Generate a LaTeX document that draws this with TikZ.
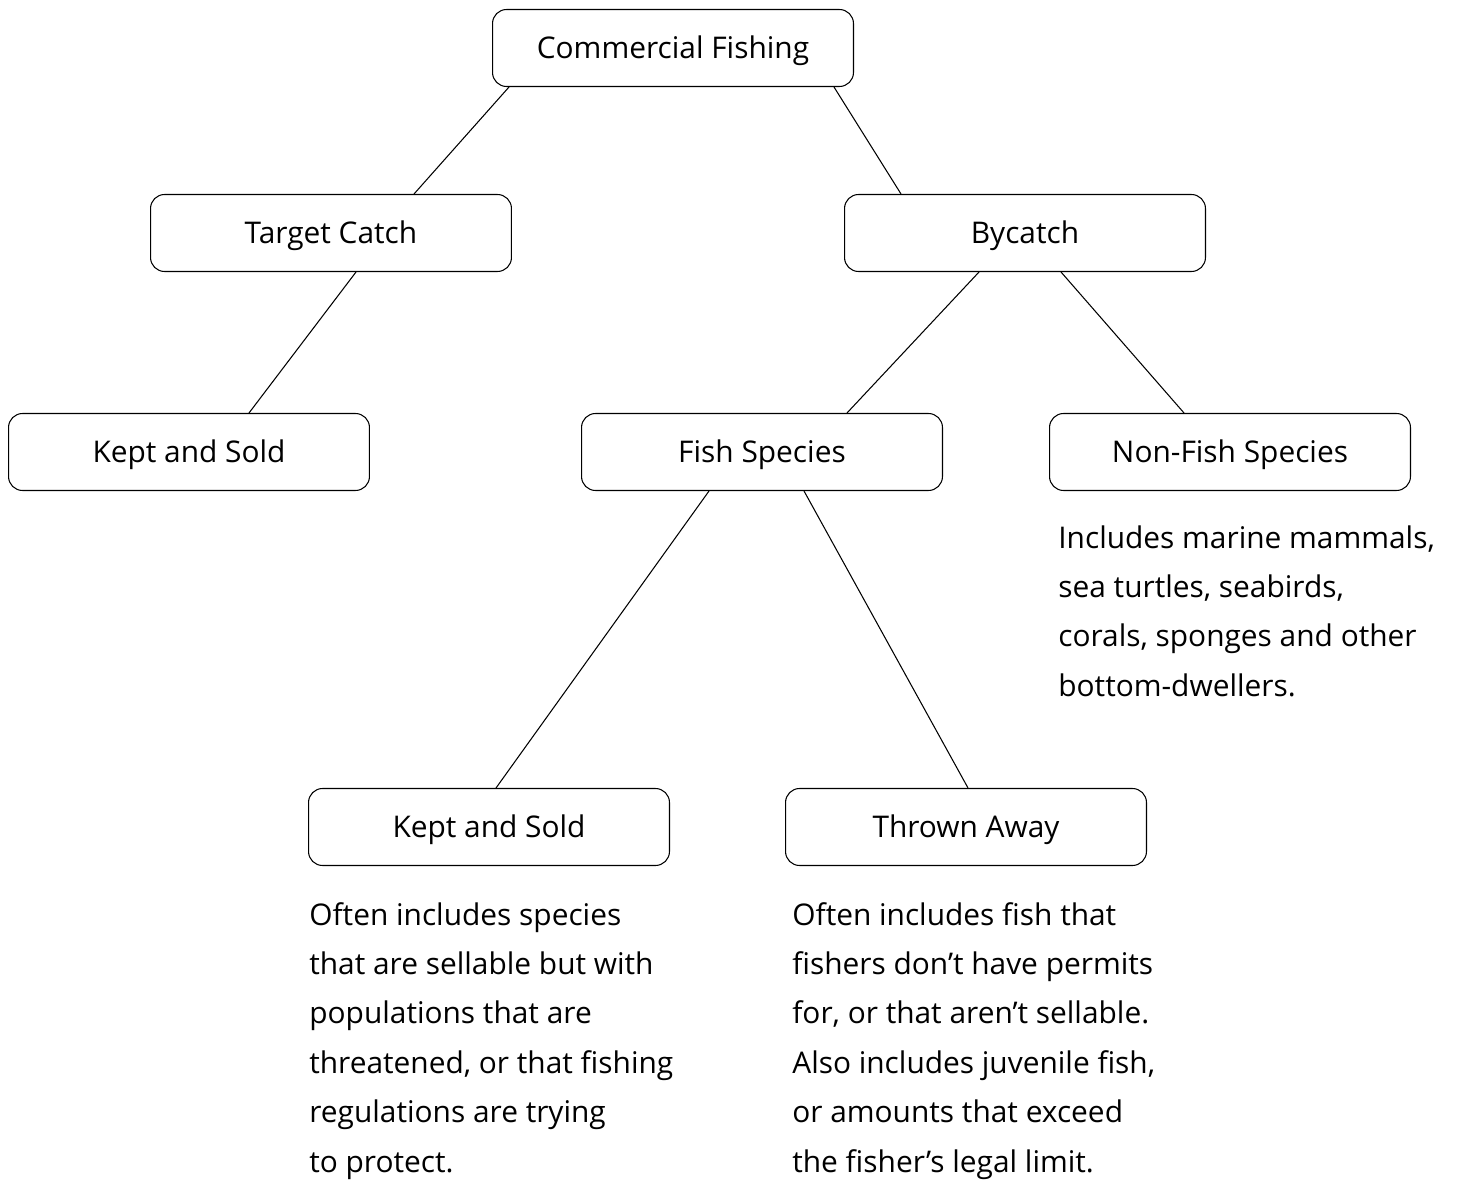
\documentclass[tikz,border=0pt]{standalone}
\usepackage{fontspec}
\setmainfont{Open Sans}
\usetikzlibrary{calc}
\tikzset{
    catch-box/.style = {draw=black, fill=white, line width=0.6pt, rectangle, rounded corners=0.28cm, minimum width=7.22cm, minimum height=1.54cm, text height=16pt, text depth=4pt, font=\fontsize{17}{20}\selectfont},
    catch-note/.style = {anchor=north west, align=left, inner sep=0pt, font=\fontsize{17}{28.1}\selectfont},
    catch-link/.style = {draw=black, line width=0.6pt},
}
\begin{document}
\begin{tikzpicture}[x=0.02cm, y=-0.02cm]
\useasboundingbox (0,0) rectangle (1460,1182);
\node [catch-box] (cf) at (673,48) {Commercial Fishing};
\node [catch-box] (tc) at (331,233) {Target Catch};
\node [catch-box] (bc) at (1025,233) {Bycatch};
\node [catch-box] (ksa) at (189,452) {Kept and Sold};
\node [catch-box] (fs) at (762,452) {Fish Species};
\node [catch-box] (nf) at (1230,452) {Non-Fish Species};
\node [catch-box] (ksb) at (489,827) {Kept and Sold};
\node [catch-box] (ta) at (966,827) {Thrown Away};

\draw [catch-link] ($(cf.south west)+(17,0)$) -- ($(tc.north west)+(264,0)$);
\draw [catch-link] ($(cf.south east)+(-20,0)$) -- ($(bc.north west)+(57,0)$);
\draw [catch-link] ($(tc.south west)+(206,0)$) -- ($(ksa.north west)+(241,0)$);
\draw [catch-link] ($(bc.south west)+(135,0)$) -- ($(fs.north west)+(266,0)$);
\draw [catch-link] ($(bc.south west)+(217,0)$) -- ($(nf.north west)+(135,0)$);
\draw [catch-link] ($(fs.south west)+(128,0)$) -- ($(ksb.north west)+(188,0)$);
\draw [catch-link] ($(fs.south west)+(223,0)$) -- ($(ta.north west)+(183,0)$);

\node [catch-note] (nfnote) at (1058,525) {Includes marine mammals,\\sea turtles, seabirds,\\corals, sponges and other\\bottom-dwellers.};
\node [catch-note] (ksnote) at (309,902) {Often includes species\\that are sellable but with\\populations that are\\threatened, or that fishing\\regulations are trying\\to protect.};
\node [catch-note] (tanote) at (792,902) {Often includes fish that\\fishers don’t have permits\\for, or that aren’t sellable.\\Also includes juvenile fish,\\or amounts that exceed\\the fisher’s legal limit.};
\end{tikzpicture}
\end{document}
